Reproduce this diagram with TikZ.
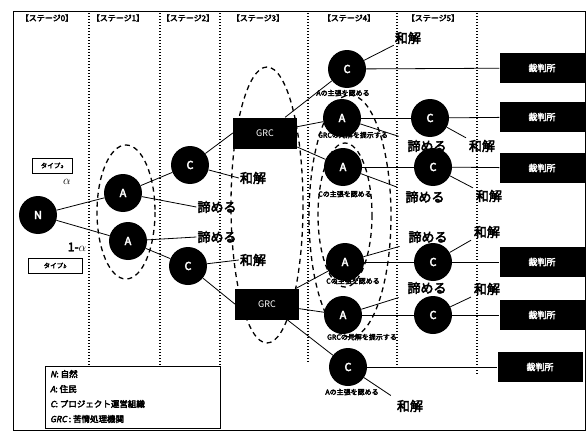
\documentclass[tikz,border=0pt]{standalone}
\usepackage{fontspec}
\setmainfont{Noto Sans CJK JP}[AutoFakeBold=3.5,AutoFakeSlant=0.2]
\pgfdeclarelayer{bg}
\pgfsetlayers{bg,main}
\tikzset{
  pl/.style={circle, fill=black, inner sep=0pt, minimum size=38pt, text=white, font=\bfseries\fontsize{11}{11}\selectfont},
  court/.style={rectangle, fill=black, inner sep=0pt, minimum width=85pt, minimum height=30pt, text=white, font=\bfseries\fontsize{9}{9}\selectfont},
  grc/.style={rectangle, fill=black, inner sep=0pt, minimum width=64pt, minimum height=31pt, text=white, font=\fontsize{9}{9}\selectfont},
  big/.style={font=\bfseries\fontsize{13}{13}\selectfont, inner sep=1pt},
  sml/.style={font=\bfseries\fontsize{7}{7}\selectfont, inner sep=0pt},
  hdr/.style={font=\bfseries\fontsize{8}{8}\selectfont, inner sep=0pt},
  sepline/.style={line width=1.1pt, dash pattern=on 1.1pt off 1.9pt},
  info/.style={line width=1.3pt, dash pattern=on 5pt off 4pt},
  edge/.style={line width=0.8pt},
  tbox/.style={draw, line width=1pt, inner sep=0pt, minimum height=15pt, font=\bfseries\fontsize{6.5}{6.5}\selectfont},
  leg/.style={anchor=west, inner sep=0pt, font=\bfseries\fontsize{8.5}{8.5}\selectfont}
}
\begin{document}
\begin{tikzpicture}[x=1pt,y=-1pt]
\useasboundingbox (0,0) rectangle (587,431);
% frame
\draw[line width=1pt] (13,11) rectangle (585,430);
% headers
\node[hdr] (h0) at (47,18) {【ステージ0】};
\node[hdr] (h1) at (118,18) {【ステージ1】};
\node[hdr] (h2) at (188,18) {【ステージ2】};
\node[hdr] (h3) at (258,18) {【ステージ3】};
\node[hdr] (h4) at (349,18) {【ステージ4】};
\node[hdr] (h5) at (433,18) {【ステージ5】};
% nodes
\node[pl] (N) at (38,215) {N};
\node[pl] (A1) at (123,193) {A};
\node[pl] (A2) at (128,241) {A};
\node[pl] (C1) at (190,165) {C};
\node[pl] (C2) at (188,266) {C};
\node[grc] (G1) at (265,133) {GRC};
\node[grc] (G2) at (267,304) {GRC};
\node[pl] (S1) at (347,69) {C};
\node[pl] (S2) at (342,118) {A};
\node[pl] (S3) at (343,167) {A};
\node[pl] (S4) at (345,262) {A};
\node[pl] (S5) at (343,315) {A};
\node[pl] (S6) at (348,367) {C};
\node[pl] (T2) at (430,118) {C};
\node[pl] (T3) at (433,167) {C};
\node[pl] (T4) at (433,262) {C};
\node[pl] (T5) at (433,315) {C};
\node[court] (K1) at (542,68) {裁判所};
\node[court] (K2) at (542,117) {裁判所};
\node[court] (K3) at (542,168) {裁判所};
\node[court] (K4) at (542,262) {裁判所};
\node[court] (K5) at (542,315) {裁判所};
\node[court] (K6) at (540,367) {裁判所};
% type boxes
\node[tbox, minimum width=40pt] (ta) at (52,165.5) {タイプ{\fontsize{5}{5}\selectfont\itshape a}};
\node[tbox, minimum width=54pt] (tb) at (55,265.5) {タイプ{\fontsize{5}{5}\selectfont\itshape b}};
\node[font=\fontsize{13}{13}\selectfont, inner sep=0pt] (al) at (67,182) {$\alpha$};
\node[font=\bfseries\fontsize{12}{12}\selectfont, inner sep=0pt] (oma) at (77,247) {1-$\alpha$};
% legend
\draw[line width=1pt] (45,366) rectangle (220,428);
\node[leg] (l1) at (50,374) {\textit{N}: 自然};
\node[leg] (l2) at (50,389) {\textit{A}: 住民};
\node[leg] (l3) at (50,404) {\textit{C}: プロジェクト運営組織};
\node[leg] (l4) at (50,419) {\textit{GRC} : 苦情処理機関};
\begin{pgfonlayer}{bg}
% separators
\foreach \x/\y in {89/366,160/366,220/366,308/363,397/367,477/375}
  \draw[sepline] (\x,13) -- (\x,\y);
% dashed information sets
\draw[info] (126,212) ellipse [x radius=29, y radius=67];
\draw[info] (267,205) ellipse [x radius=36, y radius=138];
\draw[info] (345,215) ellipse [x radius=27, y radius=72];
\draw[info] (350,216) ellipse [x radius=41, y radius=121];
% labels
\node[big] (Qa) at (217,207) {諦める};
\node[big] (Qb) at (217,237) {諦める};
\node[big] (Wa) at (253,178) {和解};
\node[big] (Wb) at (253,260) {和解};
\node[big] (W1) at (408,38) {和解};
\node[big] (Q2) at (427,146) {諦める};
\node[big] (W2) at (482,146) {和解};
\node[big] (Q3) at (425,197) {諦める};
\node[big] (W3) at (489,196) {和解};
\node[big] (Q4) at (428,237) {諦める};
\node[big] (W4) at (487,232) {和解};
\node[big] (Q5) at (427,288) {諦める};
\node[big] (W5) at (487,289) {和解};
\node[big] (W6) at (410,406) {和解};
\node[sml] (L1) at (343,93) {Aの主張を認める};
\node[sml] (L2) at (353,135) {GRCの見解を提示する};
\node[sml] (L3) at (345,194) {Cの主張を認める};
\node[sml] (L4) at (353,281) {Cの主張を認める};
\node[sml] (L5) at (362,337) {GRCの見解を提示する};
\node[sml] (L6) at (352,392) {Aの主張を認める};
% edges
\draw[edge] (N) -- (A1);
\draw[edge] (N) -- (A2);
\draw[edge] (A1) -- (C1);
\draw[edge] (A2) -- (C2);
\draw[edge] (A1) -- (Qa.west);
\draw[edge] (A2) -- (Qb.west);
\draw[edge] (C1) -- (Wa.west);
\draw[edge] (C2) -- (Wb.west);
\draw[edge] (C1) -- (G1.west);
\draw[edge] (C2) -- (G2.west);
\draw[edge] (G1) -- (S1);
\draw[edge] (G1) -- (S2);
\draw[edge] (G1) -- (S3);
\draw[edge] (G2) -- (S4);
\draw[edge] (G2) -- (S5);
\draw[edge] (G2) -- (S6);
\draw[edge] (S1) -- (K1);
\draw[edge] (S6) -- (K6);
\draw[edge] (S2) -- (T2);
\draw[edge] (S3) -- (T3);
\draw[edge] (S4) -- (T4);
\draw[edge] (S5) -- (T5);
\draw[edge] (T2) -- (K2);
\draw[edge] (T3) -- (K3);
\draw[edge] (T4) -- (K4);
\draw[edge] (T5) -- (K5);
\draw[edge] (S1) -- (W1.south west);
\draw[edge, shorten >=8pt] (S2) -- (Q2.north west);
\draw[edge, shorten >=8pt] (S3) -- (Q3.north west);
\draw[edge, shorten >=8pt] (S4) -- (Q4.south west);
\draw[edge, shorten >=8pt] (S5) -- (Q5.south west);
\draw[edge, shorten >=2pt] (T2) -- (W2.north west);
\draw[edge, shorten >=2pt] (T3) -- (W3.north west);
\draw[edge, shorten >=2pt] (T4) -- (W4.south west);
\draw[edge, shorten >=2pt] (T5) -- (W5.south west);
\draw[edge, shorten >=6pt] (S6) -- (W6.north west);
\end{pgfonlayer}
\end{tikzpicture}
\end{document}
